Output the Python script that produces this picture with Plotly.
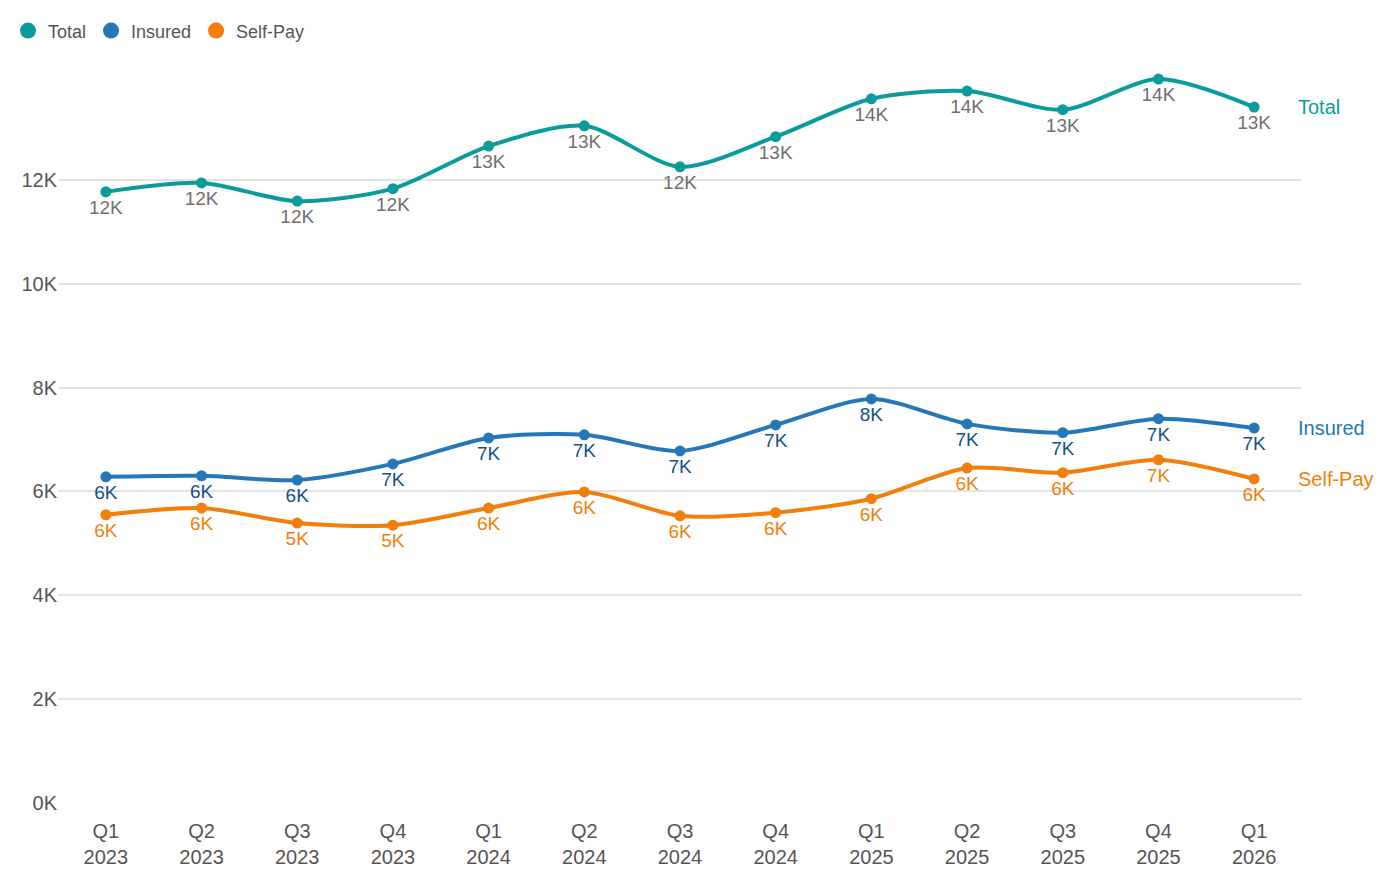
import plotly.graph_objects as go

quarters = ["Q1<br>2023", "Q2<br>2023", "Q3<br>2023", "Q4<br>2023",
            "Q1<br>2024", "Q2<br>2024", "Q3<br>2024", "Q4<br>2024",
            "Q1<br>2025", "Q2<br>2025", "Q3<br>2025", "Q4<br>2025", "Q1<br>2026"]
total = [11770, 11940, 11590, 11830, 12650, 13040, 12250, 12830, 13560, 13710, 13350, 13940, 13400]
insured = [6280, 6300, 6220, 6530, 7030, 7090, 6780, 7280, 7780, 7300, 7130, 7400, 7220]
self_pay = [5550, 5680, 5390, 5350, 5680, 5990, 5530, 5590, 5860, 6450, 6360, 6610, 6240]

series = [
    ("Total", total, "#0a9c9c", "#6f6f6f"),
    ("Insured", insured, "#2577b8", "#174f86"),
    ("Self-Pay", self_pay, "#f27f0c", "#f27f0c"),
]

fig = go.Figure()
for name, vals, color, tcolor in series:
    fig.add_trace(go.Scatter(
        x=quarters, y=vals, name=name, mode="lines+markers+text", showlegend=False,
        line=dict(color=color, width=4, shape="spline", smoothing=0.8),
        marker=dict(size=11, color=color),
        text=[f"{round(v / 1000)}K" for v in vals],
        textposition="bottom center",
        textfont=dict(color=tcolor, size=19),
        cliponaxis=False,
    ))
    # legend entry: dot only
    fig.add_trace(go.Scatter(x=[None], y=[None], name=name, mode="markers",
                             marker=dict(size=18, color=color)))
    fig.add_annotation(x=quarters[-1], y=vals[-1], text=name, showarrow=False,
                       xanchor="left", xshift=42, font=dict(color=color, size=20))

fig.update_layout(
    width=1394, height=878,
    margin=dict(l=50, r=100, t=42, b=83, autoexpand=False),
    plot_bgcolor="white", paper_bgcolor="white",
    font=dict(family="Liberation Sans, Arial, sans-serif", size=20, color="#555555"),
    legend=dict(orientation="h", x=0, y=0.995, xref="container", yref="container",
                xanchor="left", yanchor="top", font=dict(size=18),
                itemwidth=30, tracegroupgap=0),
    xaxis=dict(range=[-0.5, 12.5], showgrid=False, showline=False, ticks="",
               automargin=False, ticklabelstandoff=14),
    yaxis=dict(range=[0, 14500], tickvals=list(range(0, 12001, 2000)),
               ticktext=[f"{v}K" for v in range(0, 13, 2)], automargin=False,
               showgrid=True, gridcolor="#e3e3e3", gridwidth=1.5, zeroline=False),
)

fig.write_html("out.html")
